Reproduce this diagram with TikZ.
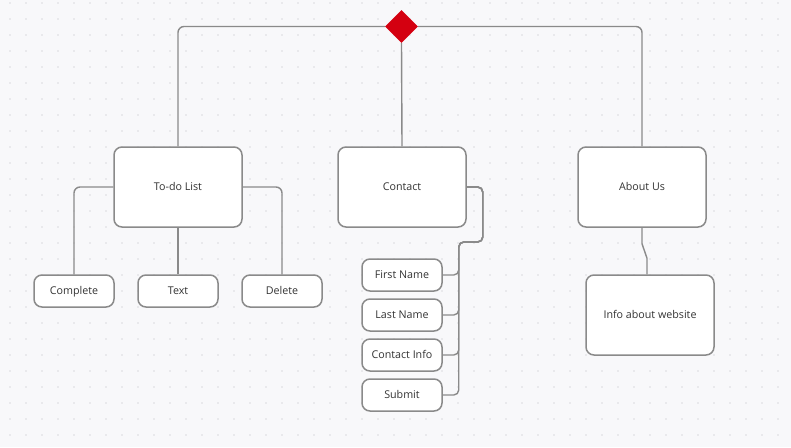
\documentclass[tikz,border=0pt]{standalone}
\usepackage{fontspec}
\setmainfont{Open Sans}
\usetikzlibrary{shapes.geometric,calc}
\definecolor{bg}{HTML}{F8F8FA}
\definecolor{gdot}{HTML}{DADADE}
\definecolor{edge}{HTML}{8A8A8A}
\definecolor{txt}{HTML}{333333}
\definecolor{redd}{HTML}{D40010}
\tikzset{
  boxbase/.style={draw=edge, line width=1.5pt, fill=white, rounded corners=8pt,
    text=txt, inner sep=0pt, text height=7.6pt, text depth=0pt,
    font=\fontsize{10.7}{12}\selectfont},
  bigbox/.style={boxbase, minimum width=128pt, minimum height=80pt},
  smallbox/.style={boxbase, minimum width=80pt, minimum height=32pt},
  conn/.style={draw=edge, line width=1.4pt, rounded corners=6pt},
}
\begin{document}
\begin{tikzpicture}[x=1pt,y=-1pt]
\useasboundingbox (0,0) rectangle (791,447);
\fill[bg] (0,0) rectangle (791,447);
\foreach \x in {10,26,...,790} {
  \foreach \y in {3,19,...,446} {
    \fill[gdot] (\x,\y) circle (0.8);
  }
}
\node[diamond, fill=redd, minimum width=33pt, minimum height=33pt, inner sep=0pt] (dia) at (401.5,26.5) {};
\node[bigbox] (todo) at (178,187) {To-do List};
\node[bigbox] (contact) at (402,187) {Contact};
\node[bigbox] (about) at (642,187) {About Us};
\node[bigbox] (info) at (650,315) {Info about website};
\node[smallbox] (complete) at (74,291) {Complete};
\node[smallbox] (text) at (178,291) {Text};
\node[smallbox] (delete) at (282,291) {Delete};
\node[smallbox] (first) at (402,275) {First Name};
\node[smallbox] (last) at (402,315) {Last Name};
\node[smallbox] (cinfo) at (402,355) {Contact Info};
\node[smallbox] (submit) at (402,395) {Submit};
\draw[conn] (dia.west) -| (todo.north);
\draw[conn] (dia.east) -| (about.north);
\draw[conn] (dia.south) -- (contact.north);
\draw[conn] (todo.west) -| (complete.north);
\draw[conn] (todo.south) -- (text.north);
\draw[conn] (todo.east) -| (delete.north);
\foreach \c in {first,last,cinfo,submit} {
  \draw[conn, rounded corners=5pt] (contact.east) -- ++(16,0) -- ++(0,55) -- ++(-24,0) |- (\c.east);
}
\coordinate (infoin) at ($(info.north)+(-3,0)$);
\draw[conn, rounded corners=0pt] (about.south) -- ++(0,16) -- ($(infoin)+(0,-16)$) -- (infoin);
\end{tikzpicture}
\end{document}
